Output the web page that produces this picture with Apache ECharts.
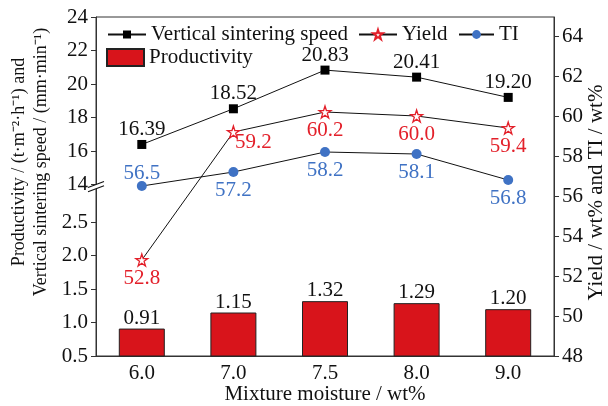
<!DOCTYPE html>
<html><head><meta charset="utf-8">
<script src="https://cdn.jsdelivr.net/npm/echarts@6/dist/echarts.min.js"></script>
<style>html,body{margin:0;padding:0;background:#fff}#c{width:608px;height:406px}</style>
</head><body><div id="c"></div>
<script>
const categories = ['6.0', '7.0', '7.5', '8.0', '9.0'];
const productivity = [0.91, 1.15, 1.32, 1.29, 1.20];
const speed = [16.39, 18.52, 20.83, 20.41, 19.20];
const yieldVals = [52.8, 59.2, 60.2, 60.0, 59.4];
const tiVals = [56.5, 57.2, 58.2, 58.1, 56.8];
const speedTicks = [14, 16, 18, 20, 22, 24];
const prodTicks = [0.5, 1.0, 1.5, 2.0, 2.5];
const rightTicks = [48, 50, 52, 54, 56, 58, 60, 62, 64];

const FONT = '"Liberation Serif", "Times New Roman", serif';
const RED = '#e3202a', BLUE = '#3f72c4', BAR = '#d8141b', AX = '#333', TXT = '#111';
const FS = 21;
const chart = echarts.init(document.getElementById('c'));
const star = 'path://M50,4 L61,38 L97,38 L68,59 L79,94 L50,73 L21,94 L32,59 L3,38 L39,38 Z';

const tiLabelPos = ['top', 'bottom', 'bottom', 'bottom', 'bottom'];
const tiOffsets = [[0, 6], [0, 0], [0, 0], [0, 0], [0, 0]];
const yieldOffsets = [[0, 0], [20, -8], [0, 0], [0, 0], [0, 0]];
const legText = { fontFamily: FONT, fontSize: FS, color: TXT };

chart.setOption({
  animation: false,
  textStyle: { fontFamily: FONT },
  grid: { left: 96, right: 54, top: 17, bottom: 50, containLabel: false, outerBoundsMode: 'none', show: true, borderColor: AX, borderWidth: 1, backgroundColor: 'transparent' },
  legend: [
    { data: ['Vertical sintering speed'], left: 102, top: 19, itemWidth: 38, itemHeight: 10, textStyle: legText },
    { data: ['Yield'], left: 353, top: 19, itemWidth: 38, itemHeight: 12, textStyle: legText },
    { data: ['TI'], left: 453, top: 19, itemWidth: 35, itemHeight: 11, textStyle: legText },
    { data: ['Productivity'], left: 101, top: 42, icon: 'rect', itemWidth: 37, itemHeight: 17, textStyle: legText }
  ],
  xAxis: {
    type: 'category', data: categories, boundaryGap: true,
    name: 'Mixture moisture / wt%', nameLocation: 'middle', nameGap: 28, nameMoveOverlap: false,
    nameTextStyle: { fontFamily: FONT, fontSize: FS, color: TXT },
    axisLine: { lineStyle: { color: AX, width: 1 } },
    axisTick: { inside: true, alignWithLabel: true, length: 6, lineStyle: { color: AX } },
    axisLabel: { fontFamily: FONT, fontSize: FS, color: TXT, margin: 7 }
  },
  yAxis: [
    {
      type: 'value', position: 'left', min: 24 - 339 / 16.75, max: 24,
      axisLine: { show: true, lineStyle: { color: AX } },
      axisTick: { show: true, length: 5, customValues: speedTicks, lineStyle: { color: AX } },
      axisLabel: { customValues: speedTicks, fontFamily: FONT, fontSize: FS, color: TXT, margin: 8 },
      splitLine: { show: false }
    },
    {
      type: 'value', position: 'left', min: 0.5, max: 0.5 + 339 / 66.9,
      axisLine: { show: false },
      axisTick: { show: true, length: 5, customValues: prodTicks, lineStyle: { color: AX } },
      axisLabel: { customValues: prodTicks, fontFamily: FONT, fontSize: FS, color: TXT, margin: 8, formatter: v => v.toFixed(1) },
      splitLine: { show: false }
    },
    {
      type: 'value', position: 'right', min: 48, max: 48 + 339 / 20,
      name: 'Yield / wt% and TI / wt%', nameLocation: 'middle', nameGap: 32, nameRotate: 90, nameMoveOverlap: false,
      nameTextStyle: { fontFamily: FONT, fontSize: FS, color: TXT, padding: [0, 12, 0, 0] },
      axisLine: { show: true, lineStyle: { color: AX } },
      axisTick: { show: true, length: 5, customValues: rightTicks, lineStyle: { color: AX } },
      axisLabel: { customValues: rightTicks, fontFamily: FONT, fontSize: FS, color: TXT, margin: 8 },
      splitLine: { show: false }
    }
  ],
  series: [
    {
      name: 'Productivity', type: 'bar', yAxisIndex: 1, data: productivity, barWidth: 46, z: 1,
      itemStyle: { color: BAR, borderColor: '#222', borderWidth: 1 },
      label: { show: true, position: 'top', distance: 0, fontFamily: FONT, fontSize: FS, color: TXT, formatter: p => p.value.toFixed(2) }
    },
    {
      name: 'Vertical sintering speed', type: 'line', yAxisIndex: 0, data: speed,
      symbol: 'rect', symbolSize: 9, z: 3,
      lineStyle: { color: TXT, width: 1 }, itemStyle: { color: '#000' },
      label: { show: true, position: 'top', distance: 0, fontFamily: FONT, fontSize: FS, color: TXT, formatter: p => p.value.toFixed(2) }
    },
    {
      name: 'Yield', type: 'line', yAxisIndex: 2, z: 3,
      data: yieldVals.map((v, i) => ({ value: v, label: { offset: yieldOffsets[i] } })),
      symbol: star, symbolSize: 12,
      lineStyle: { color: TXT, width: 1 }, itemStyle: { color: '#fff', borderColor: RED, borderWidth: 1.3 },
      label: { show: true, position: 'bottom', distance: 1, fontFamily: FONT, fontSize: FS, color: RED, formatter: p => p.value.toFixed(1) }
    },
    {
      name: 'TI', type: 'line', yAxisIndex: 2, z: 3,
      data: tiVals.map((v, i) => ({ value: v, label: { position: tiLabelPos[i], offset: tiOffsets[i] } })),
      symbol: 'circle', symbolSize: 10,
      lineStyle: { color: TXT, width: 1 }, itemStyle: { color: BLUE },
      label: { show: true, distance: 3, fontFamily: FONT, fontSize: FS, color: BLUE, formatter: p => p.value.toFixed(1) }
    }
  ]
});

// axis break marker and left axis title
const x0 = chart.convertToPixel({ xAxisIndex: 0 }, categories[0]) - 45.8;
const yTop = chart.convertToPixel({ yAxisIndex: 0 }, 14);
const yBot = chart.convertToPixel({ yAxisIndex: 1 }, 3.0);
const titleStyle = { fontFamily: FONT, fontSize: 18, fill: TXT, textAlign: 'center', textVerticalAlign: 'middle' };
chart.setOption({
  graphic: [
    { type: 'polygon', z: 100, shape: { points: [[x0 - 8, yTop + 3], [x0 + 8, yTop - 3], [x0 + 8, yBot - 3], [x0 - 8, yBot + 3]] }, style: { fill: '#fff' } },
    { type: 'line', z: 101, shape: { x1: x0 - 8, y1: yTop + 3, x2: x0 + 8, y2: yTop - 3 }, style: { stroke: '#111', lineWidth: 1.2 } },
    { type: 'line', z: 101, shape: { x1: x0 - 8, y1: yBot + 3, x2: x0 + 8, y2: yBot - 3 }, style: { stroke: '#111', lineWidth: 1.2 } },
    { type: 'text', x: 19, y: 162, rotation: Math.PI / 2, style: Object.assign({ text: 'Productivity / (t·m⁻²·h⁻¹) and' }, titleStyle) },
    { type: 'text', x: 41, y: 162, rotation: Math.PI / 2, style: Object.assign({ text: 'Vertical sintering speed / (mm·min⁻¹)' }, titleStyle) }
  ]
});
</script></body></html>
